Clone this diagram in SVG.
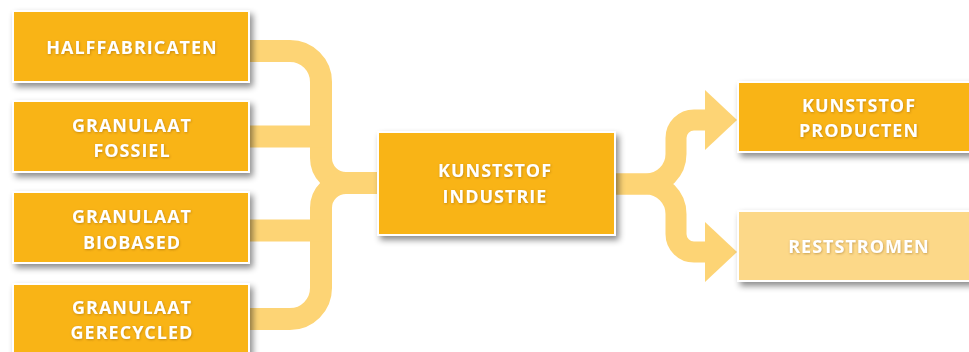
<svg xmlns="http://www.w3.org/2000/svg" width="969" height="352" viewBox="0 0 969 352">
  <defs>
    <filter id="boxShadow" x="-10%" y="-20%" width="130%" height="150%">
      <feDropShadow dx="3" dy="4" stdDeviation="3" flood-color="#000" flood-opacity="0.45"/>
    </filter>
    <filter id="textShadow" x="-10%" y="-30%" width="120%" height="160%">
      <feDropShadow dx="0.6" dy="0.8" stdDeviation="0.8" flood-color="#7a4a00" flood-opacity="0.45"/>
    </filter>
  </defs>
  <style>
    .box { fill: #F9B418; stroke: #ffffff; stroke-width: 2; }
    .box.light { fill: #FCD888; }
    .pipe { fill: none; stroke: #FDD475; stroke-width: 22; }
    .pipe.r { stroke-width: 21; }
    .head { fill: #FDD475; }
    .lbl { font-family: "Open Sans", "Liberation Sans", sans-serif; font-weight: 700; font-size: 18px; letter-spacing: 1px; fill: #ffffff; text-anchor: middle; }
  </style>
  <rect width="969" height="352" fill="#ffffff"/>

  <g id="connectors">
    <path class="pipe" d="M245,51 H290 A31,31 0 0 1 321,82 V158 A25,25 0 0 0 346,183 H385"/>
    <path class="pipe" d="M245,319 H290 A31,31 0 0 0 321,288 V208 A25,25 0 0 1 346,183 H385"/>
    <path class="pipe" d="M245,136.5 H325"/>
    <path class="pipe" d="M245,230.5 H325"/>
    <path class="pipe r" d="M610,184 H646 A30,30 0 0 0 676,154 V138 A18,18 0 0 1 694,120 H708"/>
    <path class="pipe r" d="M610,184 H646 A30,30 0 0 1 676,214 V234 A18,18 0 0 0 694,252 H708"/>
    <polygon class="head" points="705,90 737,120 705,150"/>
    <polygon class="head" points="705,222 737,252 705,282"/>
  </g>

  <g id="halffabricaten">
    <rect class="box" x="13" y="11" width="236" height="71" filter="url(#boxShadow)"/>
    <text class="lbl" x="132" y="54" filter="url(#textShadow)">HALFFABRICATEN</text>
  </g>
  <g id="granulaat-fossiel">
    <rect class="box" x="13" y="101" width="236" height="71" filter="url(#boxShadow)"/>
    <text class="lbl" x="132" y="132" filter="url(#textShadow)">GRANULAAT</text>
    <text class="lbl" x="132" y="157" filter="url(#textShadow)">FOSSIEL</text>
  </g>
  <g id="granulaat-biobased">
    <rect class="box" x="13" y="192" width="236" height="71" filter="url(#boxShadow)"/>
    <text class="lbl" x="132" y="223" filter="url(#textShadow)">GRANULAAT</text>
    <text class="lbl" x="132" y="249" filter="url(#textShadow)">BIOBASED</text>
  </g>
  <g id="granulaat-gerecycled">
    <rect class="box" x="13" y="284" width="236" height="71" filter="url(#boxShadow)"/>
    <text class="lbl" x="132" y="314" filter="url(#textShadow)">GRANULAAT</text>
    <text class="lbl" x="132" y="339" filter="url(#textShadow)">GERECYCLED</text>
  </g>
  <g id="kunststof-industrie">
    <rect class="box" x="378" y="132" width="237" height="103" filter="url(#boxShadow)"/>
    <text class="lbl" x="495" y="177" filter="url(#textShadow)">KUNSTSTOF</text>
    <text class="lbl" x="495" y="203" filter="url(#textShadow)">INDUSTRIE</text>
  </g>
  <g id="kunststof-producten">
    <rect class="box" x="738" y="82" width="238" height="70" filter="url(#boxShadow)"/>
    <text class="lbl" x="859" y="112" filter="url(#textShadow)">KUNSTSTOF</text>
    <text class="lbl" x="859" y="137" filter="url(#textShadow)">PRODUCTEN</text>
  </g>
  <g id="reststromen">
    <rect class="box light" x="738" y="211" width="238" height="70" filter="url(#boxShadow)"/>
    <text class="lbl" x="859" y="253" filter="url(#textShadow)">RESTSTROMEN</text>
  </g>
</svg>
